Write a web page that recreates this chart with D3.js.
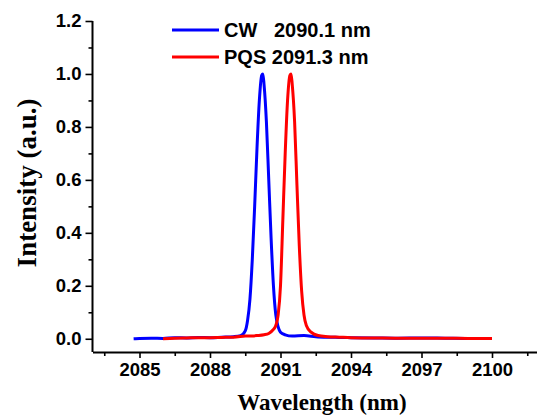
<!DOCTYPE html>
<html><head><meta charset="utf-8">
<script src="https://cdn.jsdelivr.net/npm/d3@7"></script>
<style>body{margin:0;background:#fff}svg{display:block}</style>
</head><body>
<svg id="c" width="537" height="416"></svg>
<script>
const cwWavelength = [2084.75,2085.0,2085.5,2086.0,2086.5,2087.0,2087.5,2088.0,2088.5,2089.0,2089.3,2089.5,2089.6,2089.7,2089.8,2089.9,2090.0,2090.1,2090.2,2090.25,2090.3,2090.4,2090.5,2090.6,2090.7,2090.8,2090.9,2091.0,2091.2,2091.5,2092.0,2092.5,2093.0,2093.5,2094.0,2095.0,2096.0,2097.0,2098.0,2099.0,2100.0];
const cwIntensity  = [0.000,0.001,0.002,0.001,0.004,0.003,0.005,0.004,0.006,0.008,0.012,0.03,0.07,0.15,0.30,0.50,0.72,0.90,0.995,1.0,0.96,0.82,0.60,0.38,0.20,0.09,0.045,0.025,0.015,0.010,0.012,0.008,0.006,0.005,0.004,0.003,0.002,0.003,0.002,0.001,0.001];
const pqsWavelength = [2086.0,2086.5,2087.0,2087.5,2088.0,2088.5,2089.0,2089.5,2090.0,2090.3,2090.5,2090.7,2090.8,2090.9,2091.0,2091.1,2091.2,2091.3,2091.4,2091.45,2091.5,2091.6,2091.7,2091.8,2091.9,2092.0,2092.1,2092.3,2092.6,2093.0,2093.5,2094.0,2095.0,2096.0,2097.0,2098.0,2099.0,2100.0];
const pqsIntensity  = [0.000,0.002,0.003,0.004,0.004,0.005,0.006,0.010,0.012,0.015,0.020,0.035,0.05,0.09,0.20,0.45,0.70,0.90,0.995,1.0,0.96,0.82,0.58,0.35,0.18,0.09,0.05,0.025,0.012,0.008,0.006,0.004,0.003,0.002,0.002,0.002,0.001,0.001];
const xTicks = [2085,2088,2091,2094,2097,2100];
const yTicks = [0.0,0.2,0.4,0.6,0.8,1.0,1.2];
const legendLabels = ["CW   2090.1 nm","PQS 2091.3 nm"];
const seriesColors = ["#0000ff","#ff0000"];

const svg = d3.select("#c");
const x = d3.scaleLinear().domain([2083,2102]).range([92.5,539]);
const y = d3.scaleLinear().domain([-0.05,1.2]).range([352,21]);

const font = "'Liberation Sans', Arial, sans-serif";
const serif = "'Liberation Serif', 'Times New Roman', serif";

const xMinor = d3.range(2083.5,2102,3);
const yMinor = d3.range(0.1,1.2,0.2);

const xAx = svg.append("g").attr("transform","translate(0,352)")
  .call(d3.axisBottom(x).tickValues(xTicks).tickFormat(d3.format("d")).tickSize(6).tickSizeOuter(0).tickPadding(5));
const xAxM = svg.append("g").attr("transform","translate(0,352)")
  .call(d3.axisBottom(x).tickValues(xMinor).tickFormat("").tickSize(4).tickSizeOuter(0));
const yAx = svg.append("g").attr("transform","translate(92.5,0)")
  .call(d3.axisLeft(y).tickValues(yTicks).tickFormat(d3.format(".1f")).tickSize(7).tickSizeOuter(0).tickPadding(4));
const yAxM = svg.append("g").attr("transform","translate(92.5,0)")
  .call(d3.axisLeft(y).tickValues(yMinor).tickFormat("").tickSize(4).tickSizeOuter(0));
[xAx,xAxM,yAx,yAxM].forEach(g=>{
  g.selectAll("path.domain").attr("stroke","#000").attr("stroke-width",2);
  g.selectAll(".tick line").attr("stroke","#000").attr("stroke-width",1.6);
  g.selectAll("text").attr("font-family",font).attr("font-weight","bold").attr("font-size",18.5).attr("fill","#000");
});
yAxM.select("path.domain").remove();
xAxM.select("path.domain").remove();
yAx.select("path.domain").attr("d", `M0,${y(1.2)}V352`);

const line = d3.line().x(d=>x(d[0])).y(d=>y(d[1])).curve(d3.curveMonotoneX);
const series = [d3.zip(cwWavelength,cwIntensity), d3.zip(pqsWavelength,pqsIntensity)];
series.forEach((s,i)=>{
  svg.append("path").datum(s).attr("d",line).attr("fill","none")
    .attr("stroke",seriesColors[i]).attr("stroke-width",3).attr("stroke-linejoin","round");
});

legendLabels.forEach((t,i)=>{
  const ly = 30 + i*27;
  svg.append("line").attr("x1",172).attr("x2",219).attr("y1",ly).attr("y2",ly)
    .attr("stroke",seriesColors[i]).attr("stroke-width",3);
  svg.append("text").attr("x",224).attr("y",ly+7).text(t)
    .attr("font-family",font).attr("font-weight","bold").attr("font-size",20).attr("xml:space","preserve").style("white-space","pre");
});

svg.append("text").attr("x",322).attr("y",410).attr("text-anchor","middle")
  .attr("font-family",serif).attr("font-weight","bold").attr("font-size",23).text("Wavelength (nm)");
svg.append("text").attr("transform","translate(36,183) rotate(-90)").attr("text-anchor","middle")
  .attr("font-family",serif).attr("font-weight","bold").attr("font-size",27).text("Intensity (a.u.)");
</script>
</body></html>
